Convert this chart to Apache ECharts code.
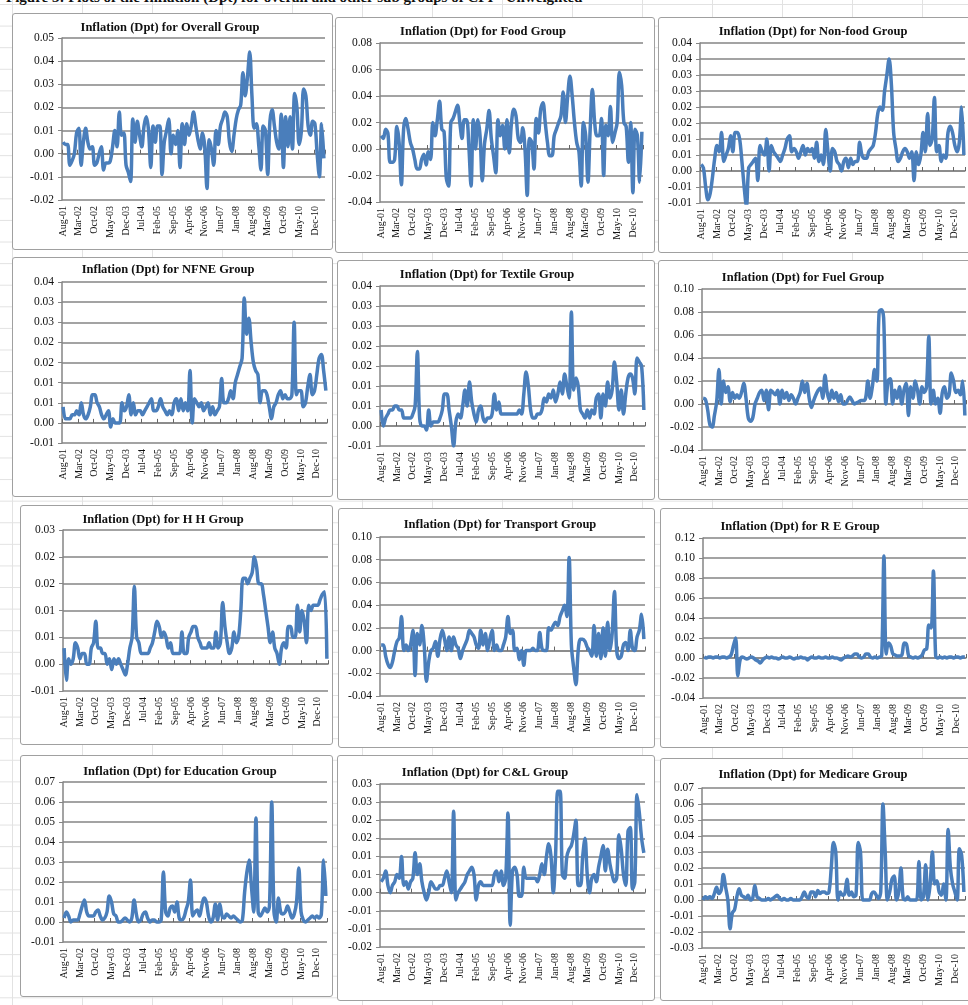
<!DOCTYPE html>
<html>
<head>
<meta charset="utf-8">
<title>Inflation (Dpt) plots</title>
<script src="https://cdn.jsdelivr.net/npm/echarts@6/dist/echarts.min.js"></script>
<style>
  html, body { margin: 0; padding: 0; }
  body {
    width: 968px; height: 1005px; overflow: hidden; position: relative;
    background-color: #fff;
    background-image: linear-gradient(to right, #e2e2e2 1px, transparent 1px),
                      linear-gradient(to bottom, #e2e2e2 1px, transparent 1px);
    background-size: 70px 21.6px;
    background-position: 12px 4px;
    font-family: "Liberation Serif", serif;
  }
  .caption {
    position: absolute; left: 6px; top: -11px;
    font-weight: bold; font-size: 15px; white-space: nowrap; color: #111;
  }
  .panel {
    position: absolute; background: #fff; box-sizing: border-box;
    border: 1px solid #a0a0a0; border-radius: 3px;
  }
  #chart { position: absolute; left: 0; top: 0; width: 968px; height: 1005px; }
</style>
</head>
<body>
<div class="caption">Figure 3: Plots of the Inflation (Dpt) for overall and other sub groups of CPI - Unweighted</div>
<div id="boxes"></div>
<div id="chart"></div>
<script>
// monthly categories Aug-01 .. Apr-11
const monthNames = ['Jan', 'Feb', 'Mar', 'Apr', 'May', 'Jun', 'Jul', 'Aug', 'Sep', 'Oct', 'Nov', 'Dec'];
const months = [];
for (let k = 0; k < 117; k++) {
  const m = (7 + k) % 12;
  const yr = 1 + Math.floor((7 + k) / 12);
  months.push(monthNames[m] + '-' + String(yr).padStart(2, '0'));
}

const titles = [
  'Inflation (Dpt) for Overall Group', 'Inflation (Dpt) for Food Group', 'Inflation (Dpt) for Non-food Group',
  'Inflation (Dpt) for NFNE Group', 'Inflation (Dpt) for Textile Group', 'Inflation (Dpt) for Fuel Group',
  'Inflation (Dpt) for H H Group', 'Inflation (Dpt) for Transport Group', 'Inflation (Dpt) for R E Group',
  'Inflation (Dpt) for Education Group', 'Inflation (Dpt) for C&L Group', 'Inflation (Dpt) for Medicare Group'
];

// y axis [min, max, step] per chart
const yRanges = [
  [-0.02, 0.05, 0.01], [-0.04, 0.08, 0.02], [-0.01, 0.04, 0.005],
  [-0.005, 0.035, 0.005], [-0.005, 0.035, 0.005], [-0.04, 0.10, 0.02],
  [-0.005, 0.025, 0.005], [-0.04, 0.10, 0.02], [-0.04, 0.12, 0.02],
  [-0.01, 0.07, 0.01], [-0.015, 0.03, 0.005], [-0.03, 0.07, 0.01]
];

const overall = [
  .005, .004, .004, -.005, -.003, .000, .009, .011, -.005, .005,
  .011, .005, .002, .003, -.005, -.004, .000, .003, -.007, -.004,
  -.004, -.003, .003, .010, .003, .018, .008, .009, -.005, -.008,
  -.012, .015, .005, .014, .008, .003, .012, .016, .010, -.006,
  .012, .005, .012, .012, -.009, .005, .010, .015, .000, .008,
  .004, .010, -.006, .013, .004, .013, .008, .012, .018, .012,
  .006, .002, .009, .003, -.015, .006, .002, -.005, .010, .004,
  .012, .015, .018, .016, .005, .001, .008, .015, .019, .021,
  .035, .025, .033, .044, .025, .011, .013, .004, -.007, .012,
  .010, -.009, .014, .019, .012, .005, .002, .017, -.006, .016,
  .003, .016, .002, .026, .020, .004, .010, .028, .025, .012,
  .008, .014, .013, .000, -.010, .013, -.002
];
const food = [
  .010, .008, .015, .012, -.010, -.010, -.008, .017, .005, -.027,
  .015, .023, .015, .005, .000, -.008, -.015, -.015, -.008, -.004,
  -.012, -.002, -.008, .020, .010, .022, .036, .015, .013, -.022,
  -.028, .020, .023, .028, .033, .020, .008, .022, .022, .003,
  -.028, .022, .000, .022, .010, -.024, .004, .015, .029, .008,
  -.005, -.018, .022, .010, .018, .000, .022, -.003, .020, .030,
  .025, .008, .005, .016, .000, -.035, .008, .005, -.015, .023,
  .012, .030, .035, .020, .005, -.005, -.005, .010, .015, .020,
  .025, .043, .020, .040, .055, .040, .020, .005, -.002, -.028,
  .020, .010, -.025, .015, .045, .020, .010, .010, .023, -.020,
  .018, .010, .032, .005, .012, .020, .058, .048, .020, .017,
  -.010, .020, -.033, .015, .010, -.025, .013
];
const nonFood = [
  .002, .001, -.005, -.009, -.007, -.002, .004, .008, .006, .012,
  .003, .005, .007, .011, .006, .012, .012, .010, .003, -.005,
  -.011, .001, .002, .003, .004, -.003, .008, .006, .005, .010,
  .000, .008, .006, .005, .004, .003, .005, .007, .010, .011,
  .006, .007, .006, .004, .006, .008, .005, .007, .006, .007,
  .004, .009, .003, .005, .002, .013, .006, .000, .007, .006,
  .003, .002, .000, .003, .004, .001, .004, .002, .003, .003,
  .009, .005, .004, .004, .006, .007, .008, .012, .018, .020,
  .019, .025, .030, .035, .027, .012, .007, .003, .004, .006,
  .007, .006, .004, .006, -.003, .006, .002, .005, .012, .006,
  .018, .008, .010, .023, .006, .008, .003, .005, .004, .012,
  .014, .012, .008, .006, .009, .020, .005
];
const nfne = [
  .004, .001, .001, .001, .002, .002, .003, .002, .005, .002,
  .001, .002, .004, .007, .007, .005, .004, .002, .001, .002,
  .003, -.001, .001, .000, .000, .000, .005, .003, .004, .007,
  .002, .005, .002, .003, .003, .002, .003, .004, .005, .006,
  .003, .003, .004, .006, .004, .003, .002, .003, .002, .005,
  .006, .003, .006, .003, .005, .003, .013, .000, .006, .005,
  .004, .005, .003, .004, .005, .002, .004, .002, .003, .004,
  .011, .005, .005, .006, .008, .006, .010, .012, .014, .016,
  .031, .022, .026, .020, .015, .013, .012, .005, .008, .008,
  .007, .004, .001, .004, .005, .007, .008, .006, .007, .006,
  .006, .007, .025, .007, .008, .008, .004, .005, .009, .012,
  .007, .008, .012, .016, .017, .013, .008
];
const textile = [
  .004, .000, .002, .003, .004, .004, .005, .005, .004, .004,
  .002, .002, .002, .002, .003, .005, .0186, .002, .000, .000,
  -.001, .004, .000, .001, .001, .001, .002, .004, .008, .008,
  .004, .000, -.005, .001, .003, .002, .005, .009, .005, .011,
  .006, .003, .001, .004, .005, .002, .001, .002, .002, .003,
  .008, .004, .006, .003, .003, .003, .003, .003, .003, .003,
  .003, .004, .003, .008, .0135, .010, .004, .002, .002, .003,
  .003, .004, .007, .006, .008, .007, .009, .006, .008, .011,
  .008, .013, .010, .007, .0285, .009, .012, .010, .004, .003,
  .002, .004, .002, .004, .003, .007, .008, .002, .008, .005,
  .011, .007, .009, .016, .011, .004, .009, .003, .008, .012,
  .013, .012, .008, .017, .016, .015, .004
];
const fuel = [
  .005, .004, -.005, -.018, -.020, -.010, .002, .030, .000, .020,
  .010, .015, .002, .010, .005, .008, .005, .010, .018, .005,
  -.012, -.015, -.012, .000, .005, .010, .012, .003, .012, -.005,
  .012, .010, .008, .012, .000, .012, .005, .010, .003, .008,
  .005, .000, .005, .010, .020, .010, .018, .005, -.003, .003,
  .008, .012, .014, .005, .025, .010, .003, .012, .005, .010,
  .002, .008, .000, .000, .003, .006, .003, .000, .001, .002,
  .003, .003, .005, .020, .005, .015, .030, .020, .080, .082,
  .075, .000, .020, .022, .000, .012, .005, .015, .000, .012,
  .018, -.010, .015, .005, .020, .012, .000, .015, .010, .015,
  .059, .000, .012, .000, .005, -.008, .010, .015, .005, .008,
  .027, .020, .010, .012, .008, .020, -.010
];
const hh = [
  .003, -.003, .001, .000, .001, .004, .003, .001, .002, .002,
  .000, .000, .003, .004, .008, .003, .003, .002, .002, .000,
  .001, -.001, .001, .000, .001, .000, -.001, -.002, .000, .003,
  .005, .0145, .005, .004, .002, .002, .002, .002, .003, .004,
  .006, .008, .007, .005, .006, .005, .003, .004, .002, .002,
  .002, .002, .006, .002, .002, .005, .006, .007, .007, .005,
  .004, .003, .003, .003, .004, .003, .003, .006, .003, .004,
  .0115, .007, .004, .002, .003, .006, .004, .005, .010, .016,
  .016, .015, .016, .017, .020, .018, .015, .015, .013, .010,
  .007, .004, .006, .003, .002, .000, .003, .004, .003, .007,
  .007, .005, .005, .011, .006, .010, .008, .004, .011, .010,
  .011, .011, .011, .012, .013, .0135, .001
];
const transport = [
  .005, .005, -.005, -.012, -.015, -.010, .000, .008, .011, .030,
  .000, .005, .000, .005, .018, -.022, .015, .005, .022, .005,
  -.027, -.010, .000, .002, .008, -.005, .010, .018, .010, .000,
  .012, .000, .012, .005, .002, -.007, .000, .005, .010, .018,
  .015, .012, .005, .002, .018, .005, .015, .000, .010, .018,
  .000, .005, .000, .000, .005, .012, .030, .015, .018, .000,
  .002, -.008, .000, -.013, .000, .000, .000, .002, .000, .000,
  .016, .002, .000, .000, .020, .018, .022, .025, .022, .030,
  .035, .040, .030, .082, .005, -.015, -.030, .000, .010, .010,
  .008, .003, .000, -.005, .022, -.005, .015, -.007, .020, -.005,
  .025, .000, .015, .052, .000, -.007, -.005, .005, .007, .000,
  .018, .002, .000, .012, .018, .032, .010
];
const re = [
  .001, .000, .001, .001, .000, .001, .001, .000, .001, .001,
  .000, .001, .003, .012, .020, -.018, -.002, .001, .000, -.001,
  .000, .001, .000, -.002, -.003, -.005, -.002, .000, .001, .000,
  .001, .000, .000, -.001, .000, .001, .000, .000, .001, .000,
  -.001, .000, .000, .001, .000, .000, -.002, .000, .001, .000,
  .000, .001, .000, .000, .001, .000, .000, .001, .000, .000,
  -.001, -.002, .000, .001, .002, .001, .002, .004, .004, .001,
  .000, .001, .004, .004, .001, .000, .001, .000, .001, .002,
  .102, .004, .015, .012, .004, .003, .002, .002, .003, .015,
  .014, .002, .001, .000, .001, .000, .001, .003, .008, .009,
  .033, .030, .087, .002, .000, .001, .000, .001, .000, .001,
  .001, .000, .001, .001, .000, .001, .001
];
const education = [
  .002, .005, .003, .000, .001, .001, .001, .004, .008, .011,
  .005, .003, .003, .003, .005, .006, .003, .001, .002, .005,
  .013, .010, .004, .003, .000, .000, .001, .002, .001, .000,
  .002, .011, .004, .000, .001, .004, .005, .002, .000, .001,
  .001, .000, .000, .001, .025, .005, .003, .007, .008, .005,
  .010, .002, .001, .002, .006, .010, .021, .003, .005, .006,
  .003, .008, .012, .010, .003, .000, .002, .009, .001, .009,
  .003, .002, .004, .003, .002, .003, .002, .001, .000, .001,
  .015, .025, .031, .018, .005, .052, .005, .003, .005, .007,
  .005, .008, .060, .005, .000, .012, .005, .004, .005, .008,
  .005, .002, .004, .010, .027, .005, .001, .000, .001, .002,
  .003, .002, .003, .002, .004, .031, .013
];
const cl = [
  .003, .004, .006, .002, .000, .002, .003, .005, .004, .010,
  .002, .003, .001, .003, .004, .011, .005, .008, .003, .000,
  -.002, .000, .003, .002, .001, .001, .002, .002, .004, .006,
  .003, .000, .0225, -.002, .000, .001, .002, .003, .005, .006,
  .007, .005, -.002, .002, .003, .002, .002, .002, .002, .002,
  .005, .006, .003, .006, .002, .004, .022, -.009, .006, .007,
  .005, -.001, -.001, .007, .004, .004, .004, .004, .004, .003,
  .005, .008, .005, .010, .0135, .010, .000, .010, .028, .028,
  .005, .004, .010, .012, .013, .016, .020, .002, .002, .010,
  .015, .005, .000, .004, .005, .003, .007, .010, .013, .006,
  .012, .008, .005, .003, .004, .016, .012, .005, .002, .017,
  .018, .001, .003, .027, .022, .015, .011
];
const medicare = [
  .000, .002, .001, .002, .001, .004, .008, .004, .006, .016,
  .008, .000, -.018, -.008, -.006, .002, .007, .003, .002, .001,
  .003, .000, .001, .009, .002, .001, .000, .000, .000, .001,
  .000, .001, .002, .003, .001, .000, .001, .000, .000, .001,
  .000, .000, .000, .000, .002, .005, .002, .001, .005, .005,
  .002, .006, .004, .005, .005, .004, .005, .020, .036, .030,
  .000, .005, .003, .004, .013, .003, .005, .002, .003, .036,
  .030, .000, .000, .000, .000, .004, .005, .003, .001, .005,
  .060, .030, .000, .005, .013, .015, .000, .005, .020, .001,
  .000, .002, .000, .000, .000, .000, .024, .000, .002, .022,
  .000, .010, .030, .010, .012, .005, .003, .010, .000, .044,
  .020, .010, .005, .000, .032, .028, .005
];

const seriesData = [overall, food, nonFood, nfne, textile, fuel, hh, transport, re, education, cl, medicare];

// layout: chart frames [l, t, r, b], plot areas [l, t, w, h], title centres [x, y]
const frames = [
  [12, 13, 333, 250], [335, 17, 655, 253], [658, 17, 972, 253],
  [12, 257, 333, 497], [337, 260, 655, 500], [658, 260, 972, 500],
  [20, 505, 333, 745], [338, 508, 655, 748], [660, 508, 972, 748],
  [20, 755, 333, 997], [337, 755, 655, 1001], [660, 758, 972, 1001]
];
const plots = [
  [62, 38, 263, 162], [380, 43, 263, 159], [700, 43, 265, 160],
  [62, 282, 265, 161], [380, 286, 265, 160], [702, 289, 264, 161],
  [63, 530, 265, 161], [380, 537, 265, 159], [703, 538, 263, 160],
  [63, 782, 264, 160], [380, 784, 265, 163], [702, 788, 263, 160]
];
const titlePos = [
  [170, 28], [483, 32], [813, 32],
  [168, 270], [487, 275], [803, 278],
  [163, 520], [500, 525], [800, 527],
  [180, 772], [485, 773], [813, 775]
];

const boxes = document.getElementById('boxes');
frames.forEach(f => {
  const d = document.createElement('div');
  d.className = 'panel';
  d.style.left = f[0] + 'px';
  d.style.top = f[1] + 'px';
  d.style.width = (f[2] - f[0]) + 'px';
  d.style.height = (f[3] - f[1]) + 'px';
  boxes.appendChild(d);
});

const serif = '"Liberation Serif", "Times New Roman", serif';
const gridGray = '#858585';

// Excel style two-decimal labels (0.005 -> 0.01, -0.005 -> -0.01)
function fmt (v) {
  const r = Math.round(Math.abs(v) * 100 + 1e-7) / 100;
  return (v < -1e-9 ? '-' : '') + r.toFixed(2);
}

let grid = [], xAxis = [], yAxis = [], series = [], graphic = [];
for (let i = 0; i < 12; i++) {
  const p = plots[i];
  grid.push({ left: p[0], top: p[1], width: p[2], height: p[3], outerBoundsMode: 'none', containLabel: false });
  // labels at the bottom of the plot
  xAxis.push({
    gridIndex: i, type: 'category', data: months, boundaryGap: true, position: 'bottom',
    axisLine: { show: false, onZero: false },
    axisTick: { show: false },
    axisLabel: { interval: 6, rotate: 90, fontFamily: serif, fontSize: 10, color: '#111', margin: 6 },
    splitLine: { show: false }
  });
  // category axis line crossing at zero, with tick marks
  xAxis.push({
    gridIndex: i, type: 'category', data: months, boundaryGap: true, position: 'bottom',
    axisLine: { show: true, onZero: true, lineStyle: { color: gridGray, width: 1.5 } },
    axisTick: { show: true, interval: 6, length: 4, inside: true, lineStyle: { color: '#666', width: 1 } },
    axisLabel: { show: false },
    splitLine: { show: false }
  });
  const yr = yRanges[i];
  yAxis.push({
    gridIndex: i, type: 'value', min: yr[0], max: yr[1], interval: yr[2],
    axisLine: { show: true, lineStyle: { color: gridGray, width: 1.5 } },
    axisTick: { show: true, length: 4, lineStyle: { color: gridGray } },
    axisLabel: { fontFamily: serif, fontSize: 11.5, color: '#111', margin: 8, formatter: fmt },
    splitLine: { show: true, lineStyle: { color: gridGray, width: 1.5 } }
  });
  series.push({
    name: titles[i], type: 'line', xAxisIndex: 2 * i, yAxisIndex: i,
    data: seriesData[i], showSymbol: false, symbol: 'none', smooth: 0.35,
    lineStyle: { color: '#4A7EBB', width: 3.5 },
    z: 3
  });
  graphic.push({
    type: 'text', x: titlePos[i][0], y: titlePos[i][1],
    style: {
      text: titles[i], font: 'bold 12.5px ' + serif, fill: '#111',
      align: 'center', verticalAlign: 'middle', textAlign: 'center', textVerticalAlign: 'middle'
    }
  });
}

let myChart = echarts.init(document.getElementById('chart'));
let option = {
  backgroundColor: 'transparent',
  animation: false,
  grid: grid,
  xAxis: xAxis,
  yAxis: yAxis,
  series: series,
  graphic: graphic
};
myChart.setOption(option);
</script>
</body>
</html>
